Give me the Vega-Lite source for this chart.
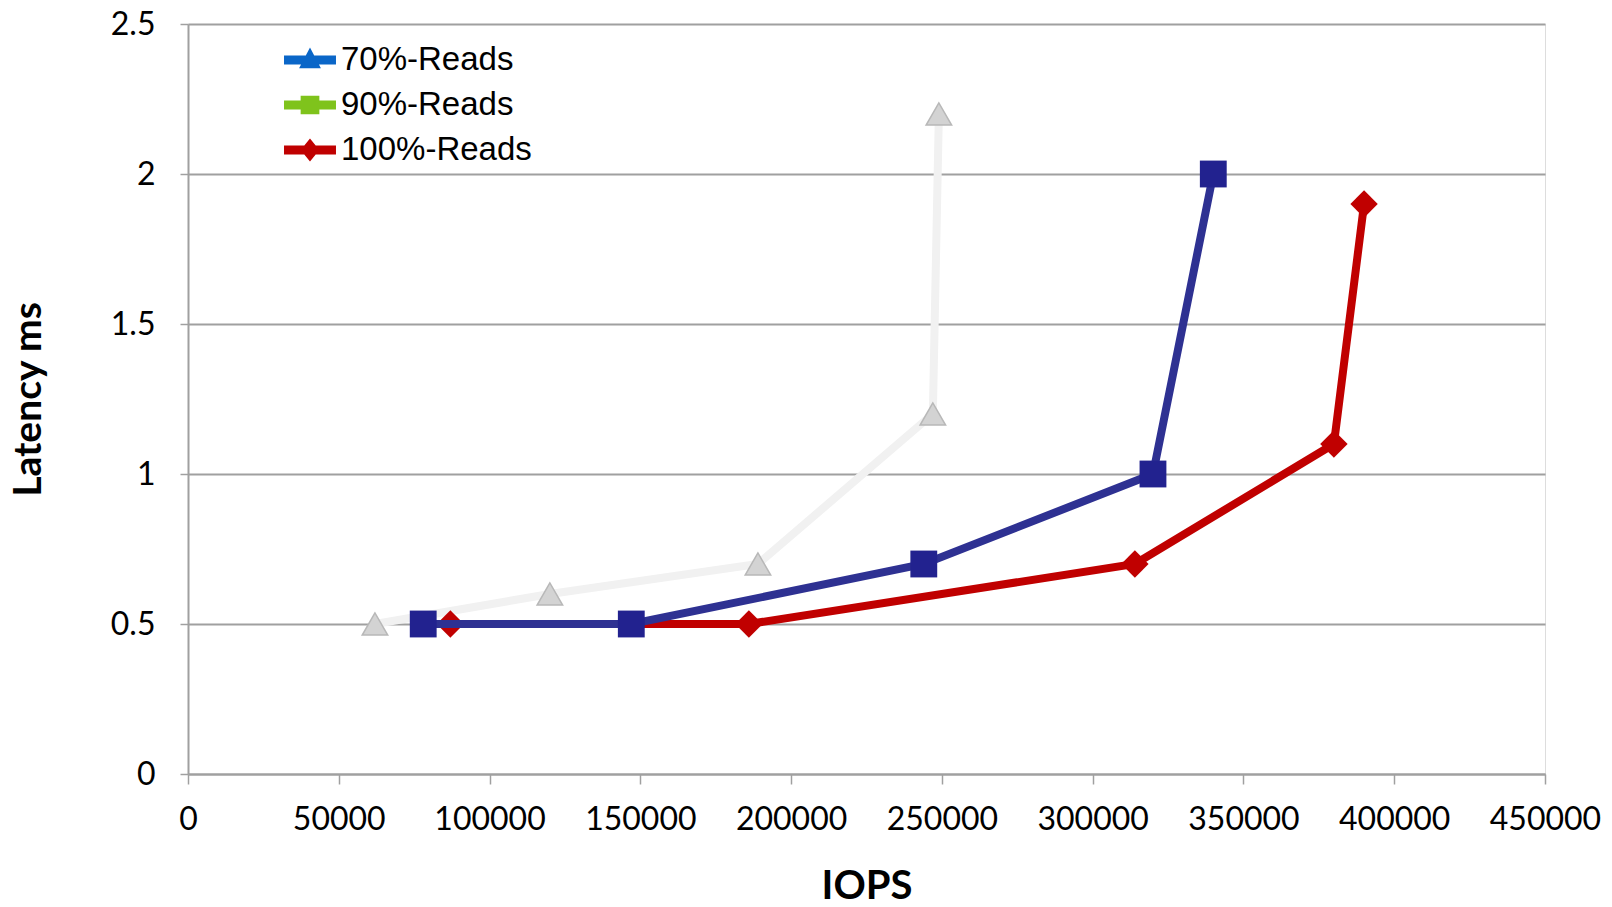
{
  "$schema": "https://vega.github.io/schema/vega-lite/v6.json",
  "width": 1357,
  "height": 750,
  "autosize": "none",
  "padding": {"left": 188, "top": 24, "right": 67, "bottom": 133},
  "background": "white",
  "data": {"values": [
    {"series": "70%-Reads", "iops": 62000, "latency": 0.5},
    {"series": "70%-Reads", "iops": 120000, "latency": 0.6},
    {"series": "70%-Reads", "iops": 189000, "latency": 0.7},
    {"series": "70%-Reads", "iops": 247000, "latency": 1.2},
    {"series": "70%-Reads", "iops": 249000, "latency": 2.2},
    {"series": "90%-Reads", "iops": 78000, "latency": 0.5},
    {"series": "90%-Reads", "iops": 147000, "latency": 0.5},
    {"series": "90%-Reads", "iops": 244000, "latency": 0.7},
    {"series": "90%-Reads", "iops": 320000, "latency": 1.0},
    {"series": "90%-Reads", "iops": 340000, "latency": 2.0},
    {"series": "100%-Reads", "iops": 87000, "latency": 0.5},
    {"series": "100%-Reads", "iops": 186000, "latency": 0.5},
    {"series": "100%-Reads", "iops": 314000, "latency": 0.7},
    {"series": "100%-Reads", "iops": 380000, "latency": 1.1},
    {"series": "100%-Reads", "iops": 390000, "latency": 1.9}
  ]},
  "encoding": {
    "x": {
      "field": "iops", "type": "quantitative",
      "scale": {"domain": [0, 450000], "nice": false},
      "axis": {
        "title": "IOPS", "values": [0, 50000, 100000, 150000, 200000, 250000, 300000, 350000, 400000, 450000],
        "format": "d", "grid": false, "domainColor": "#a0a0a0", "domainWidth": 2,
        "tickColor": "#a0a0a0", "tickWidth": 1.5, "tickSize": 10,
        "labelOverlap": false, "labelFlush": false,
        "labelFont": "Lato", "labelFontSize": 32, "labelColor": "#000", "labelPadding": 20,
        "titleFont": "Lato", "titleFontSize": 40, "titleFontWeight": "bold", "titleColor": "#000", "titlePadding": 31
      }
    },
    "y": {
      "field": "latency", "type": "quantitative",
      "scale": {"domain": [0, 2.5], "nice": false},
      "axis": {
        "title": "Latency ms", "values": [0, 0.5, 1, 1.5, 2, 2.5], "format": "~g",
        "grid": true, "gridColor": "#a0a0a0", "gridWidth": 2,
        "domainColor": "#a0a0a0", "domainWidth": 2,
        "tickColor": "#a0a0a0", "tickWidth": 1.5, "tickSize": 8,
        "labelOverlap": false, "labelFlush": false,
        "labelFont": "Lato", "labelFontSize": 32, "labelColor": "#000", "labelPadding": 25,
        "titleFont": "Lato", "titleFontSize": 39, "titleFontWeight": "bold", "titleColor": "#000", "titlePadding": 62
      }
    }
  },
  "layer": [
    {
      "transform": [{"filter": "datum.series === '70%-Reads'"}],
      "mark": {"type": "line", "color": "#f1f1f1", "strokeWidth": 8},
      "encoding": {}
    },
    {
      "transform": [{"filter": "datum.series === '70%-Reads'"}],
      "mark": {"type": "point", "shape": "triangle-up", "filled": true, "fill": "#d3d3d3", "stroke": "#b8b8b8", "strokeWidth": 1.5, "size": 650, "opacity": 1},
      "encoding": {}
    },
    {
      "transform": [{"filter": "datum.series === '100%-Reads'"}],
      "mark": {"type": "line", "color": "#c00000", "strokeWidth": 8},
      "encoding": {}
    },
    {
      "transform": [{"filter": "datum.series === '100%-Reads'"}],
      "mark": {"type": "point", "shape": "diamond", "filled": true, "fill": "#c00000", "size": 750, "opacity": 1},
      "encoding": {}
    },
    {
      "transform": [{"filter": "datum.series === '90%-Reads'"}],
      "mark": {"type": "line", "color": "#2e3192", "strokeWidth": 8},
      "encoding": {}
    },
    {
      "transform": [{"filter": "datum.series === '90%-Reads'"}],
      "mark": {"type": "point", "shape": "square", "filled": true, "fill": "#22228f", "size": 720, "opacity": 1},
      "encoding": {}
    },
    {
      "transform": [{"filter": "datum.latency > 100"}],
      "mark": {"type": "point", "filled": true, "opacity": 1},
      "encoding": {
        "fill": {
          "field": "series", "type": "nominal",
          "scale": {"domain": ["70%-Reads", "90%-Reads", "100%-Reads"], "range": ["#0a66c8", "#7fc31c", "#c00000"]},
          "legend": {
            "title": null, "orient": "none", "legendX": 96, "legendY": 10,
            "labelFont": "Liberation Sans", "labelFontSize": 33, "labelColor": "#000", "labelLimit": 0,
            "symbolSize": 2700, "symbolOpacity": 1, "symbolStrokeWidth": 0, "labelOffset": 5,
            "rowPadding": 2
          }
        },
        "shape": {
          "field": "series", "type": "nominal",
          "scale": {"domain": ["70%-Reads", "90%-Reads", "100%-Reads"], "range": [
            "M-1,-0.17L1,-0.17L1,0.17L-1,0.17ZM0,-0.48L0.42,0.32L-0.42,0.32Z",
            "M-1,-0.17L1,-0.17L1,0.17L-1,0.17ZM-0.36,-0.36L0.36,-0.36L0.36,0.36L-0.36,0.36Z",
            "M-1,-0.17L1,-0.17L1,0.17L-1,0.17ZM0,-0.44L0.36,0L0,0.44L-0.36,0Z"
          ]}
        }
      }
    }
  ]
}
